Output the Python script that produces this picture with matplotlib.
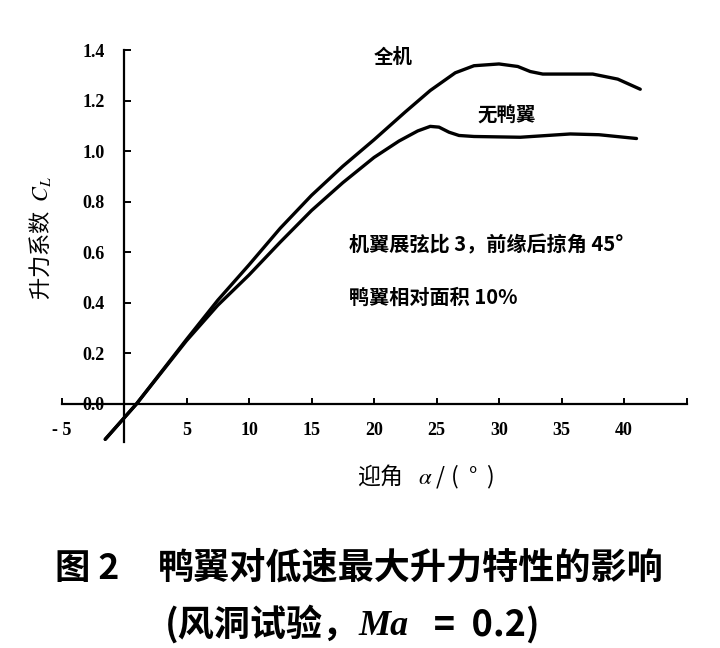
import matplotlib
matplotlib.use('Agg')
import matplotlib.pyplot as plt
from matplotlib.offsetbox import TextArea, HPacker, AnchoredOffsetbox

plt.rcParams['font.family'] = ['Noto Sans CJK SC', 'DejaVu Sans']
plt.rcParams['mathtext.fontset'] = 'stix'

# 全机
alpha_full = [-1.5, 0, 1, 5, 7.5, 10, 12.5, 15, 17.5, 20, 22.5, 24.5, 26.5, 28, 30, 31.5, 32.5, 33.5, 37.5, 39.5, 41.3]
cl_full = [-0.14, -0.056, 0.0, 0.255, 0.41, 0.55, 0.695, 0.825, 0.94, 1.045, 1.155, 1.24, 1.31, 1.338, 1.345, 1.335,
           1.315, 1.305, 1.305, 1.285, 1.245]

# 无鸭翼
alpha_nocanard = [-1.5, 0, 1, 5, 7.5, 10, 12.5, 15, 17.5, 20, 22, 23.5, 24.5, 25.2, 26, 26.8, 28, 31.7, 35.7, 38, 41]
cl_nocanard = [-0.14, -0.056, 0.0, 0.25, 0.39, 0.51, 0.64, 0.765, 0.875, 0.975, 1.04, 1.08, 1.098, 1.095, 1.075,
               1.062, 1.058, 1.055, 1.068, 1.065, 1.05]

xticks = [-5, 5, 10, 15, 20, 25, 30, 35, 40, 45]
xtick_labels = ['- 5', '5', '10', '15', '20', '25', '30', '35', '40', '']
yticks = [0.0, 0.2, 0.4, 0.6, 0.8, 1.0, 1.2, 1.4]
ytick_labels = ['0.0', '0.2', '0.4', '0.6', '0.8', '1.0', '1.2', '1.4']

fig = plt.figure(figsize=(7.2, 6.48), dpi=100)
ax = fig.add_axes([61.5 / 720, 206.2 / 648, 625 / 720, 396.8 / 648])

ax.plot(alpha_full, cl_full, color='black', linewidth=2.4, solid_capstyle='round', solid_joinstyle='round')
ax.plot(alpha_nocanard, cl_nocanard, color='black', linewidth=2.4, solid_capstyle='round', solid_joinstyle='round')

ax.set_xlim(-5, 45)
ax.set_ylim(-0.15, 1.42)

# 坐标轴穿过原点
ax.spines['left'].set_position(('data', 0))
ax.spines['bottom'].set_position(('data', 0))
ax.spines['top'].set_visible(False)
ax.spines['right'].set_visible(False)
ax.spines['left'].set_bounds(-0.15, 1.4)
ax.spines['bottom'].set_bounds(-5, 45)
ax.spines['left'].set_linewidth(1.6)
ax.spines['bottom'].set_linewidth(1.6)

tick_font = {'family': 'Liberation Serif', 'weight': 'bold', 'size': 13}
ax.set_xticks(xticks)
ax.set_xticklabels(xtick_labels, fontdict=tick_font)
ax.set_yticks(yticks)
ax.set_yticklabels(ytick_labels, fontdict=tick_font)
ax.tick_params(axis='x', direction='in', length=4, width=1.4, pad=13)
ax.tick_params(axis='y', direction='in', length=5, width=1.4, pad=14)

# 曲线标注
ax.text(21.5, 1.37, '全机', fontsize=14, fontweight='bold', ha='center', va='center')
ax.text(30.6, 1.14, '无鸭翼', fontsize=14, fontweight='bold', ha='center', va='center')
ax.text(18.0, 0.63, '机翼展弦比 3，前缘后掠角 45°', fontsize=14.5, fontweight='bold', ha='left', va='center')
ax.text(18.0, 0.42, '鸭翼相对面积 10%', fontsize=14.5, fontweight='bold', ha='left', va='center')

# 轴标题
fig.text(40 / 720, 1 - 238 / 648, '升力系数  $C_L$', rotation=90, fontsize=16, ha='center', va='center')
fig.text(426 / 720, 1 - 477 / 648, '迎角   $\\alpha$ / (  °  )', fontsize=16.5, ha='center', va='center')

# 图题
fig.text(55 / 720, 1 - 568 / 648, '图 2', fontsize=25.5, fontweight='bold', ha='left', va='center')
fig.text(158 / 720, 1 - 568 / 648, '鸭翼对低速最大升力特性的影响', fontsize=26, fontweight='bold',
         ha='left', va='center')
caption2 = HPacker(children=[
    TextArea('(风洞试验，', textprops=dict(fontsize=26, fontweight='bold')),
    TextArea('Ma', textprops=dict(fontsize=26, family='Liberation Serif', weight='bold', style='italic')),
    TextArea('   =  0.2)', textprops=dict(fontsize=26, fontweight='bold')),
], pad=0, sep=0, align='baseline')
anchored = AnchoredOffsetbox(loc='center', child=caption2, frameon=False, pad=0,
                             bbox_to_anchor=(352 / 720, 1 - 624 / 648), bbox_transform=fig.transFigure)
fig.add_artist(anchored)

plt.savefig('out.png', dpi=100)
plt.close()
